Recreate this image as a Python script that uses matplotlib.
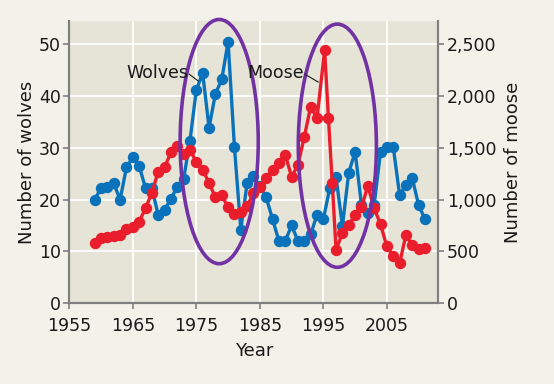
import matplotlib
matplotlib.use("Agg")
import matplotlib.pyplot as plt
from matplotlib.patches import Ellipse
from matplotlib.ticker import FuncFormatter

plt.rcParams['font.family'] = ['DejaVu Sans']

wolf_years = list(range(1959, 2012))
wolves = [20, 22.2, 22.4, 23.1, 20, 26.2, 28.2, 26.5, 22.2, 22.2,
          17, 18, 20.1, 22.5, 24, 31.4, 41.2, 44.4, 33.9, 40.4,
          43.2, 50.5, 30.1, 14.2, 23.2, 24.5, 22.6, 20.4, 16.2, 12,
          12, 15, 12, 12, 13.3, 17, 16.2, 22.2, 24.3, 14.9,
          25.2, 29.2, 19, 17.3, 19, 29.2, 30.2, 30.2, 20.9, 22.8,
          24.1, 18.9, 16.2]

moose_years = list(range(1959, 1995)) + [1995.2, 1995.8, 1996.4] + list(range(1997, 2012))
moose = [577, 625, 641, 647, 657, 712, 737, 786, 915, 1066,
         1269, 1311, 1455, 1517, 1440, 1480, 1365, 1285, 1162, 1021,
         1043, 925, 860, 882, 937, 1060, 1124, 1205, 1285, 1356,
         1430, 1220, 1333, 1607, 1897, 1785,
         2444, 1785, 1162,
         510, 681, 756, 850, 923, 1130, 916, 760, 547, 455,
         383, 658, 556, 518, 528]

x_ticks = [1955, 1965, 1975, 1985, 1995, 2005]
wolf_ticks = [0, 10, 20, 30, 40, 50]
moose_ticks = [0, 500, 1000, 1500, 2000, 2500]

BLUE = '#0A72BA'
RED = '#EA1D2C'
PURPLE = '#7232A4'
GRID_GREY = '#7f7f7f'
TEXT = '#1a1a1a'

fig = plt.figure(figsize=(5.54, 3.84), dpi=100, facecolor='#F2F2EA')
ax = fig.add_axes([0.1251, 0.2109, 0.6661, 0.7344])
ax.set_facecolor('#E6E4D6')
ax2 = ax.twinx()

ax.set_xlim(1955, 2013.1)
ax.set_ylim(0, 54.5)
ax2.set_ylim(0, 54.5 * 50)

ax.set_xticks(x_ticks)
ax.set_yticks(wolf_ticks)
ax2.set_yticks(moose_ticks)
ax2.yaxis.set_major_formatter(FuncFormatter(lambda v, p: f"{int(v):,}"))

ax.grid(True, color='white', linewidth=1.3)
ax.set_axisbelow(True)

for a in (ax, ax2):
    a.spines['top'].set_visible(False)
    for s in ('left', 'right', 'bottom'):
        a.spines[s].set_color(GRID_GREY)
        a.spines[s].set_linewidth(1.5)
    a.tick_params(direction='out', length=4, width=1.2, color=GRID_GREY,
                  labelsize=12.5, labelcolor=TEXT, pad=2)
ax.tick_params(axis='x', pad=6)

ax.plot(wolf_years, wolves, '-o', color=BLUE, lw=2.4, ms=7.2, zorder=3)
ax.plot(moose_years, [m / 50 for m in moose], '-o', color=RED,
        lw=2.4, ms=7.2, zorder=4)

ax.add_patch(Ellipse((1978.6, 31.2), 12.3, 47.2, fill=False, ec=PURPLE,
                     lw=2.6, clip_on=False, zorder=5))
ax.add_patch(Ellipse((1997.2, 30.4), 12.3, 47.0, fill=False, ec=PURPLE,
                     lw=2.6, clip_on=False, zorder=5))

ax.text(1973.8, 44.4, 'Wolves', ha='right', va='center', fontsize=12.5,
        color=TEXT, zorder=6)
ax.plot([1973.9, 1975.3], [44.2, 42.9], color=TEXT, lw=0.8, zorder=6)
ax.text(1992.0, 44.4, 'Moose', ha='right', va='center', fontsize=12.5,
        color=TEXT, zorder=6)
ax.plot([1992.1, 1994.2], [44.2, 42.7], color=TEXT, lw=0.8, zorder=6)

ax.set_xlabel('Year', fontsize=13, color=TEXT, labelpad=5)
ax.set_ylabel('Number of wolves', fontsize=13, color=TEXT, labelpad=2)
ax2.set_ylabel('Number of moose', fontsize=13, color=TEXT, labelpad=6)

fig.savefig('out.png', dpi=100, facecolor=fig.get_facecolor())
